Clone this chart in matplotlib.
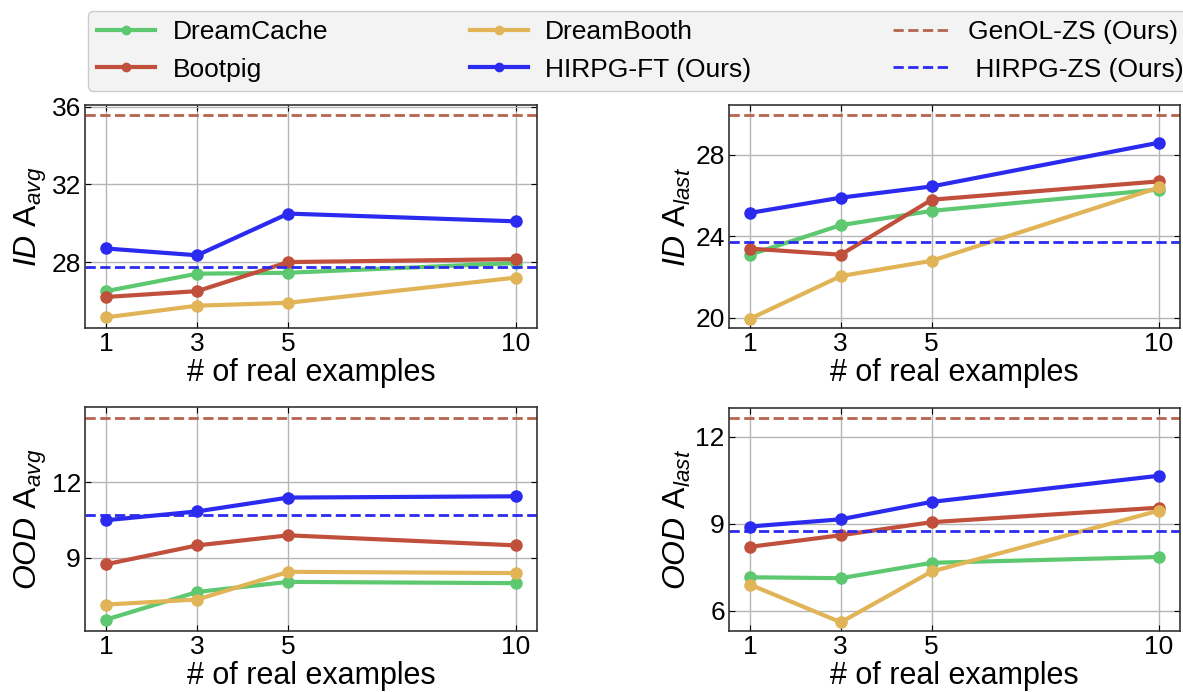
import numpy as np
import matplotlib
matplotlib.use('Agg')
import matplotlib.pyplot as plt

plt.rcParams['font.family'] = ['Liberation Sans', 'DejaVu Sans']
plt.rcParams['mathtext.fontset'] = 'custom'
plt.rcParams['mathtext.rm'] = 'Liberation Sans'
plt.rcParams['mathtext.it'] = 'Liberation Sans:italic'

# number of real examples
shots = [1, 3, 5, 10]

# ID A_avg
id_avg_dreamcache = [26.5, 27.4, 27.45, 27.95]
id_avg_bootpig = [26.2, 26.5, 28.0, 28.15]
id_avg_dreambooth = [25.15, 25.75, 25.9, 27.2]
id_avg_hirpg_ft = [28.7, 28.35, 30.5, 30.1]
id_avg_genol_zs = 35.6
id_avg_hirpg_zs = 27.75

# ID A_last
id_last_dreamcache = [23.1, 24.55, 25.25, 26.3]
id_last_bootpig = [23.4, 23.1, 25.8, 26.7]
id_last_dreambooth = [19.95, 22.05, 22.8, 26.4]
id_last_hirpg_ft = [25.15, 25.9, 26.45, 28.6]
id_last_genol_zs = 29.95
id_last_hirpg_zs = 23.7

# OOD A_avg
ood_avg_dreamcache = [6.55, 7.65, 8.05, 8.0]
ood_avg_bootpig = [8.75, 9.5, 9.9, 9.5]
ood_avg_dreambooth = [7.15, 7.35, 8.45, 8.4]
ood_avg_hirpg_ft = [10.5, 10.85, 11.4, 11.45]
ood_avg_genol_zs = 14.55
ood_avg_hirpg_zs = 10.7

# OOD A_last
ood_last_dreamcache = [7.15, 7.12, 7.65, 7.85]
ood_last_bootpig = [8.2, 8.6, 9.05, 9.55]
ood_last_dreambooth = [6.9, 5.6, 7.35, 9.45]
ood_last_hirpg_ft = [8.9, 9.15, 9.75, 10.65]
ood_last_genol_zs = 12.65
ood_last_hirpg_zs = 8.75

c_cache = '#5dc870'
c_boot = '#c0503c'
c_booth = '#e2b458'
c_ft = '#2b2bf0'
c_genol = '#b5654f'
c_zs = '#2b2bf0'

panels = [
    (r'$ID$ A$_{avg}$', id_avg_dreamcache, id_avg_bootpig, id_avg_dreambooth,
     id_avg_hirpg_ft, id_avg_genol_zs, id_avg_hirpg_zs, [28, 32, 36], (24.6, 36.1)),
    (r'$ID$ A$_{last}$', id_last_dreamcache, id_last_bootpig, id_last_dreambooth,
     id_last_hirpg_ft, id_last_genol_zs, id_last_hirpg_zs, [20, 24, 28], (19.5, 30.45)),
    (r'$OOD$ A$_{avg}$', ood_avg_dreamcache, ood_avg_bootpig, ood_avg_dreambooth,
     ood_avg_hirpg_ft, ood_avg_genol_zs, ood_avg_hirpg_zs, [9, 12], (6.1, 15.0)),
    (r'$OOD$ A$_{last}$', ood_last_dreamcache, ood_last_bootpig, ood_last_dreambooth,
     ood_last_hirpg_ft, ood_last_genol_zs, ood_last_hirpg_zs, [6, 9, 12], (5.3, 13.0)),
]

# axes boxes in figure fractions [left, bottom, width, height]
boxes = [
    [0.0719, 0.526, 0.3821, 0.3223],
    [0.6162, 0.526, 0.3812, 0.3223],
    [0.0719, 0.0882, 0.3821, 0.3237],
    [0.6162, 0.0882, 0.3812, 0.3228],
]

fig = plt.figure(figsize=(11.83, 6.92), dpi=100)

for box, (ylab, cache, boot, booth, ft, genol, zs, yt, ylim) in zip(boxes, panels):
    ax = fig.add_axes(box)
    kw = dict(lw=3, marker='o', ms=8)
    ax.plot(shots, cache, color=c_cache, label='DreamCache', **kw)
    ax.plot(shots, boot, color=c_boot, label='Bootpig', **kw)
    ax.plot(shots, booth, color=c_booth, label='DreamBooth', **kw)
    ax.plot(shots, ft, color=c_ft, label='HIRPG-FT (Ours)', **kw)
    ax.axhline(genol, color=c_genol, ls='--', lw=2, label='GenOL-ZS (Ours)')
    ax.axhline(zs, color=c_zs, ls='--', lw=2, label=' HIRPG-ZS (Ours)')
    ax.set_xlim(0.54, 10.46)
    ax.set_ylim(*ylim)
    ax.set_xticks(shots)
    ax.set_yticks(yt)
    ax.grid(True, color='#b5b5b5', lw=1)
    ax.set_axisbelow(True)
    ax.tick_params(direction='in', top=True, right=True, labelsize=19, length=4, pad=3)
    for s in ax.spines.values():
        s.set_color('#333333')
        s.set_linewidth(1.2)
    ax.set_xlabel('# of real examples', fontsize=22, labelpad=1)
    ax.set_ylabel(ylab, fontsize=23, labelpad=2)

handles, labels = ax.get_legend_handles_labels()
fig.legend(handles, labels,
           loc='upper left', bbox_to_anchor=(0.0744, 0.984), ncol=3,
           fontsize=19, markerscale=0.75, handlelength=2.2, handletextpad=0.65,
           columnspacing=5.37, labelspacing=0.5, borderpad=0.35, borderaxespad=0,
           frameon=True, facecolor='#f3f3f3', edgecolor='#cccccc', framealpha=1)

fig.savefig('out.png', dpi=100)
